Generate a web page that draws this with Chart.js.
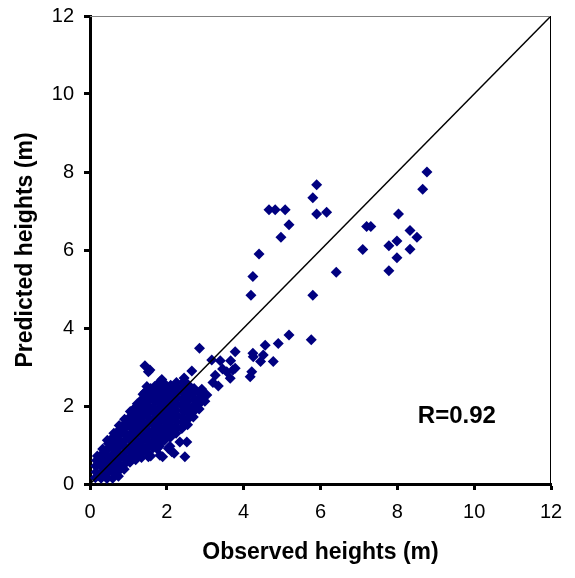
<!DOCTYPE html>
<html>
<head>
<meta charset="utf-8">
<script src="https://cdn.jsdelivr.net/npm/chart.js@4.4.1/dist/chart.umd.min.js"></script>
<style>
  html, body { margin: 0; padding: 0; background: #fff; }
  #wrap { width: 575px; height: 578px; }
</style>
</head>
<body>
<div id="wrap"><canvas id="heightChart" width="575" height="578"></canvas></div>
<script>
// observed vs predicted heights (m)
const denseCluster = [
  [0.14,0.16],[0.16,0.31],[0.15,0.46],[0.17,0.6],[0.19,0.72],
  [0.29,0.15],[0.31,0.3],[0.3,0.45],[0.32,0.6],[0.3,0.75],[0.33,0.9],
  [0.44,0.14],[0.46,0.29],[0.45,0.44],[0.47,0.59],[0.44,0.74],[0.46,0.89],[0.48,1.04],[0.45,1.12],
  [0.59,0.15],[0.61,0.3],[0.6,0.45],[0.62,0.6],[0.59,0.75],[0.61,0.9],[0.63,1.05],[0.6,1.2],[0.62,1.3],
  [0.74,0.2],[0.76,0.35],[0.75,0.5],[0.77,0.65],[0.74,0.8],[0.76,0.95],[0.78,1.1],[0.75,1.25],[0.77,1.4],[0.76,1.5],
  [0.89,0.38],[0.91,0.52],[0.9,0.67],[0.92,0.82],[0.89,0.97],[0.91,1.12],[0.93,1.27],[0.9,1.42],[0.92,1.56],[0.9,1.66],
  [1.04,0.56],[1.06,0.7],[1.05,0.85],[1.07,1.0],[1.04,1.15],[1.06,1.3],[1.08,1.45],[1.05,1.6],[1.07,1.75],[1.05,1.86],
  [1.19,0.62],[1.21,0.78],[1.2,0.93],[1.22,1.08],[1.19,1.23],[1.21,1.38],[1.23,1.53],[1.2,1.68],[1.22,1.83],[1.2,1.98],[1.23,2.06],
  [1.34,0.68],[1.36,0.84],[1.35,0.99],[1.37,1.14],[1.34,1.29],[1.36,1.44],[1.38,1.59],[1.35,1.74],[1.37,1.89],[1.34,2.04],[1.36,2.18],[1.38,2.3],
  [1.49,0.8],[1.51,0.95],[1.5,1.1],[1.52,1.25],[1.49,1.4],[1.51,1.55],[1.53,1.7],[1.5,1.85],[1.52,2.0],[1.49,2.15],[1.51,2.28],[1.5,2.4],
  [1.64,0.92],[1.66,1.07],[1.65,1.22],[1.67,1.37],[1.64,1.52],[1.66,1.67],[1.68,1.82],[1.65,1.97],[1.67,2.12],[1.64,2.27],[1.66,2.4],[1.68,2.5],
  [1.79,1.02],[1.81,1.17],[1.8,1.32],[1.82,1.47],[1.79,1.62],[1.81,1.77],[1.83,1.92],[1.8,2.07],[1.82,2.22],[1.79,2.37],[1.81,2.5],[1.84,2.56],
  [1.94,1.12],[1.96,1.27],[1.95,1.42],[1.97,1.57],[1.94,1.72],[1.96,1.87],[1.98,2.02],[1.95,2.17],[1.97,2.32],[1.94,2.45],[1.96,2.55],
  [2.09,1.2],[2.11,1.35],[2.1,1.5],[2.12,1.65],[2.09,1.8],[2.11,1.95],[2.13,2.1],[2.1,2.25],[2.12,2.4],[2.1,2.53],
  [2.24,1.3],[2.26,1.45],[2.25,1.6],[2.27,1.75],[2.24,1.9],[2.26,2.05],[2.28,2.2],[2.25,2.35],[2.27,2.48],[2.25,2.6],
  [2.39,1.42],[2.41,1.57],[2.4,1.72],[2.42,1.87],[2.39,2.02],[2.41,2.17],[2.43,2.32],[2.4,2.47],[2.42,2.6],[2.45,2.72],
  [2.54,1.52],[2.56,1.67],[2.55,1.82],[2.57,1.97],[2.54,2.12],[2.56,2.27],[2.58,2.42],[2.55,2.55],
  [2.69,1.72],[2.71,1.87],[2.7,2.02],[2.72,2.17],[2.69,2.32],[2.71,2.45],
  [2.84,1.92],[2.86,2.07],[2.85,2.22],[2.87,2.35],
  [2.99,2.12],[3.02,2.28],
  [0.22,0.22],[0.24,0.52],[0.38,0.22],[0.38,0.52],[0.38,0.82],[0.53,0.37],[0.53,0.67],[0.53,0.97],
  [0.68,0.27],[0.68,0.57],[0.68,0.87],[0.68,1.17],[0.83,0.42],[0.83,0.72],[0.83,1.02],[0.83,1.32],
  [0.98,0.6],[0.98,0.9],[0.98,1.2],[0.98,1.5],[1.13,0.7],[1.13,1.0],[1.13,1.3],[1.13,1.6],[1.13,1.9],
  [1.28,0.75],[1.28,1.05],[1.28,1.35],[1.28,1.65],[1.28,1.95],[1.43,0.88],[1.43,1.18],[1.43,1.48],
  [1.43,1.78],[1.43,2.08],[1.43,2.35],[1.58,1.0],[1.58,1.3],[1.58,1.6],[1.58,1.9],[1.58,2.2],[1.58,2.45]
];

const clusterEdge = [
  [1.43,3.03],[1.52,2.88],[1.48,2.5],[1.82,2.62],[1.87,2.68],[1.56,2.92],[2.65,2.9],
  [2.85,3.48],[3.17,3.18],[3.39,3.16],[3.66,3.16],[3.78,3.39],[3.26,2.79],[3.56,2.88],
  [3.78,2.97],[3.65,2.71],[3.34,2.51],[2.91,2.43],[3.04,2.28],[2.82,2.15],[4.17,2.75],
  [4.21,2.88],[4.25,3.26],[4.56,3.56],[4.51,3.31],[4.77,3.14],[4.9,3.6],[4.24,3.35],
  [4.44,3.14],[3.72,2.92],[5.18,3.82],[5.76,3.7],[3.45,2.95],[3.2,2.6],
  [1.52,0.7],[1.58,0.72],[1.82,0.74],[1.89,0.7],[2.13,0.83],[2.19,0.79],[2.34,1.08],
  [2.52,1.08],[2.47,0.7],[1.74,0.91],[2.04,0.91],[2.08,0.97],[1.81,0.97]
];

const tallTrees = [
  [8.77,8.0],[8.66,7.56],[8.03,6.92],[5.9,7.67],[5.8,7.34],[5.9,6.92],[6.16,6.97],
  [4.66,7.03],[4.82,7.03],[5.08,7.03],[5.18,6.65],[4.97,6.33],[4.4,5.9],[4.24,5.32],
  [4.19,4.84],[5.8,4.84],[6.41,5.43],[7.2,6.6],[7.31,6.6],[7.1,6.01],[7.78,6.11],
  [7.99,6.23],[8.33,6.5],[8.51,6.33],[8.33,6.02],[7.99,5.8],[7.78,5.47]
];

const oneToOne = [[0,0],[12,12]];
const axisTicks = [0, 2, 4, 6, 8, 10, 12];
const rLabel = "R=0.92";

const toXY = arr => arr.map(p => ({ x: p[0], y: p[1] }));
const allPoints = [...denseCluster, ...clusterEdge, ...tallTrees];

const frame = {
  id: "frame",
  afterDraw(chart) {
    const { ctx, chartArea: a, scales } = chart;
    ctx.save();
    ctx.lineWidth = 1;
    ctx.strokeStyle = "#808080";
    ctx.beginPath();
    ctx.moveTo(a.left, a.top + 0.5);
    ctx.lineTo(a.right, a.top + 0.5);
    ctx.stroke();
    ctx.strokeStyle = "#000";
    ctx.beginPath();
    ctx.moveTo(a.right - 0.5, a.top);
    ctx.lineTo(a.right - 0.5, a.bottom);
    ctx.stroke();
    // R value
    ctx.fillStyle = "#000";
    ctx.font = "bold 24px 'Liberation Sans', Arial, sans-serif";
    ctx.textAlign = "center";
    ctx.textBaseline = "middle";
    ctx.fillText(rLabel, scales.x.getPixelForValue(9.55), scales.y.getPixelForValue(1.74));
    ctx.restore();
  }
};

const tickFont = { family: "'Liberation Sans', Arial, sans-serif", size: 20 };
const titleFont = { family: "'Liberation Sans', Arial, sans-serif", size: 23, weight: "bold" };

new Chart(document.getElementById("heightChart"), {
  type: "scatter",
  data: {
    datasets: [
      {
        type: "line",
        data: toXY(oneToOne),
        borderColor: "#000",
        borderWidth: 1.5,
        pointRadius: 0,
        fill: false
      },
      {
        data: toXY(allPoints),
        pointStyle: "rectRot",
        pointRadius: 5.5,
        backgroundColor: "#000080",
        borderColor: "#000080",
        borderWidth: 0
      }
    ]
  },
  options: {
    responsive: false,
    animation: false,
    layout: { padding: { top: 16, right: 24, left: 0, bottom: 0 } },
    plugins: { legend: { display: false }, tooltip: { enabled: false } },
    scales: {
      x: {
        type: "linear",
        min: 0, max: 12,
        afterBuildTicks: s => { s.ticks = axisTicks.map(v => ({ value: v })); },
        afterFit: s => { s.height = 94; s.paddingLeft = 0; s.paddingRight = 0; },
        ticks: { color: "#000", font: tickFont, padding: 10 },
        grid: { drawOnChartArea: false, tickLength: 6, tickWidth: 3, tickColor: "#000" },
        border: { color: "#000", width: 3 },
        title: { display: true, text: "Observed heights (m)", color: "#000", font: titleFont, padding: { top: 0, bottom: 12 } }
      },
      y: {
        type: "linear",
        min: 0, max: 12,
        afterBuildTicks: s => { s.ticks = axisTicks.map(v => ({ value: v })); },
        afterFit: s => { s.width = 90; s.paddingTop = 0; s.paddingBottom = 0; },
        ticks: { color: "#000", font: tickFont, padding: 10 },
        grid: { drawOnChartArea: false, tickLength: 6, tickWidth: 3, tickColor: "#000" },
        border: { color: "#000", width: 3 },
        title: { display: true, text: "Predicted heights (m)", color: "#000", font: titleFont, padding: { top: 12, bottom: 0 } }
      }
    }
  },
  plugins: [frame]
});
</script>
</body>
</html>
